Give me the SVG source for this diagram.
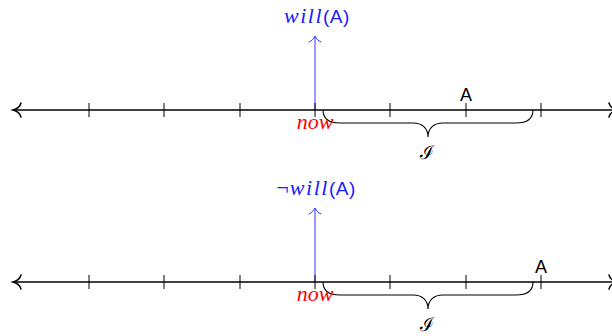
<svg xmlns="http://www.w3.org/2000/svg" width="612" height="336" viewBox="0 0 612 336">
<style>
.axis{stroke:#000;stroke-width:1.6;fill:none}
.tick{stroke:#000;stroke-width:1;fill:none}
.head{stroke:#000;stroke-width:1.5;fill:none;stroke-linecap:round}
.brace{stroke:#000;stroke-width:1.1;fill:none}
.blue{stroke:#3333ff;stroke-width:1;fill:none}
.bhead{stroke:#3333ff;stroke-width:1;fill:none;stroke-linecap:round}
.lab{font-family:"Liberation Sans",Arial,sans-serif;font-size:18px;fill:#000}
.it{font-family:"Liberation Serif","Times New Roman",serif;font-style:italic}
.sans{font-family:"Liberation Sans",Arial,sans-serif;font-size:19px}
.now{font-family:"Liberation Serif","Times New Roman",serif;font-style:italic;font-size:22px;fill:#ff0000}
.will{font-size:22px;fill:#1a1aff}
.cal{font-family:"DejaVu Serif","Liberation Serif",serif;font-size:19px;fill:#000}
</style>
<defs>
<path id="ahL" class="head" d="M8,-7 C7,-3 3,-0.8 0,0 C3,0.8 7,3 8,7"/>
<path id="ahU" class="bhead" d="M-6,6 C-3,5 -1,2 0,0 C1,2 3,5 6,6"/>
<g id="ticks">
<path class="tick" d="M89,-7V7M164,-7V7M240,-7V7M315,-7V7M390,-7V7M466,-7V7M541,-7V7"/>
</g>
<path id="brace" class="brace" d="M323,0 C323,9 329,13 340,13 L413,13 C422,13 428,18 428,27 C428,18 434,13 443,13 L516,13 C527,13 533,9 533,0"/>
</defs>

<g id="connectors">
<g id="arrow1">
<line class="blue" x1="315" y1="110" x2="315" y2="36.5"/>
<use href="#ahU" x="315" y="36"/>
</g>
<g id="arrow2">
<line class="blue" x1="315" y1="282" x2="315" y2="208.5"/>
<use href="#ahU" x="315" y="208"/>
</g>
</g>

<g id="timeline1">
<line class="axis" x1="13" y1="110" x2="617" y2="110"/>
<use href="#ahL" x="13" y="110"/>
<g transform="translate(617,110) scale(-1,1)"><use href="#ahL"/></g>
<use href="#ticks" y="110"/>
<use href="#brace" y="110"/>
</g>

<g id="timeline2">
<line class="axis" x1="13" y1="282" x2="617" y2="282"/>
<use href="#ahL" x="13" y="282"/>
<g transform="translate(617,282) scale(-1,1)"><use href="#ahL"/></g>
<use href="#ticks" y="282"/>
<use href="#brace" y="282"/>
</g>

<g id="will1">
<text y="23" class="will"><tspan x="284" class="it" letter-spacing="1.5">will</tspan><tspan class="sans" letter-spacing="0.5">(A)</tspan></text>
</g>
<g id="notwill2">
<text y="195" class="will"><tspan x="275" class="it">¬</tspan><tspan class="it" letter-spacing="1.5">will</tspan><tspan class="sans" letter-spacing="0.5">(A)</tspan></text>
</g>

<g id="now1"><text x="315" y="129" class="now" text-anchor="middle">now</text></g>
<g id="now2"><text x="315" y="301" class="now" text-anchor="middle">now</text></g>

<g id="A1"><text x="466" y="101" class="lab" text-anchor="middle">A</text></g>
<g id="A2"><text x="541" y="273" class="lab" text-anchor="middle">A</text></g>

<g id="I1"><text x="427" y="159" class="cal" text-anchor="middle">ℐ</text></g>
<g id="I2"><text x="427" y="331" class="cal" text-anchor="middle">ℐ</text></g>
</svg>
